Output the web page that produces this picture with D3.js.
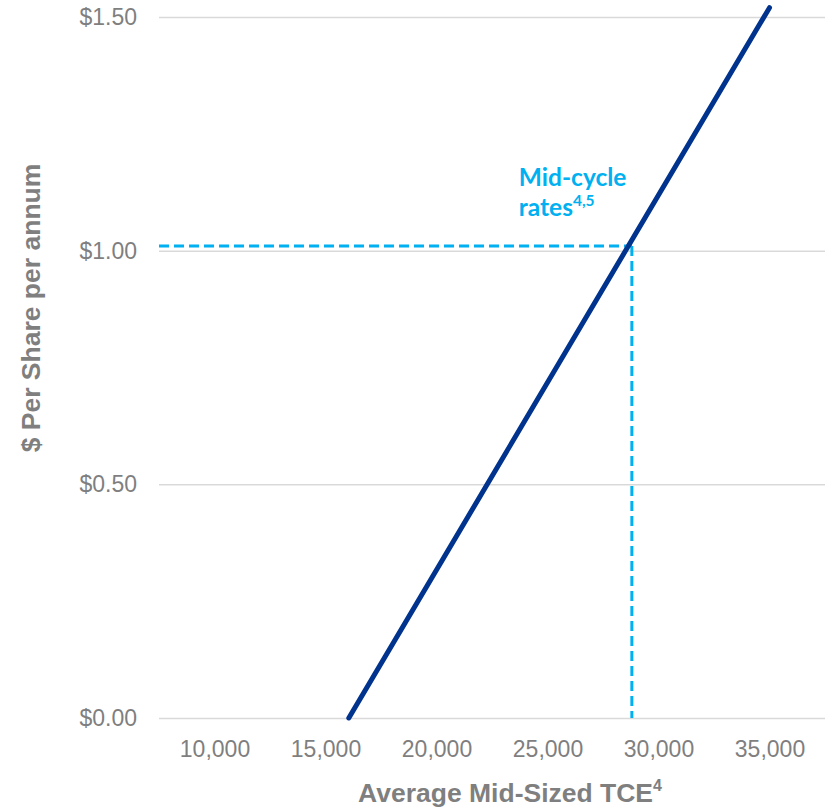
<!DOCTYPE html>
<html>
<head>
<meta charset="utf-8">
<script src="https://cdn.jsdelivr.net/npm/d3@7"></script>
<style>
  html, body { margin: 0; padding: 0; background: #fff; }
  svg { display: block; }
  text { font-family: "Liberation Sans", Arial, sans-serif; }
</style>
</head>
<body>
<svg id="chart" width="833" height="808"></svg>
<script>
// Tick values
const xTicks = [10000, 15000, 20000, 25000, 30000, 35000];
const yTicks = [0, 0.5, 1.0, 1.5];

// Earnings sensitivity line: average TCE ($/day) vs $ per share per annum
const lineTce = [16050, 35000];
const lineEps = [0, 1.52];

// Mid-cycle reference point
const midCycleTce = 28800;
const midCycleEps = 1.01;

const grey = "#7f7f7f";
const navy = "#00338d";
const cyan = "#00b0f0";

const svg = d3.select("#chart");
const plotLeft = 159, plotRight = 825, plotTop = 17, plotBottom = 718;

const x = d3.scaleLinear().domain([7500, 37500]).range([plotLeft, plotRight]);
const y = d3.scaleLinear().domain([0, 1.5]).range([plotBottom, plotTop]);

// Y axis with gridlines
const yAxis = svg.append("g")
  .attr("transform", `translate(${plotLeft},0)`)
  .call(d3.axisLeft(y)
    .tickValues(yTicks)
    .tickSize(-(plotRight - plotLeft))
    .tickPadding(22)
    .tickFormat(d => "$" + d.toFixed(2)));
yAxis.select(".domain").remove();
yAxis.selectAll(".tick line").attr("stroke", "#d9d9d9").attr("stroke-width", 1.5);
yAxis.selectAll(".tick text")
  .attr("fill", grey)
  .style("font-size", "23px");

// X axis labels
const xAxis = svg.append("g")
  .attr("transform", `translate(0,${plotBottom})`)
  .call(d3.axisBottom(x)
    .tickValues(xTicks)
    .tickSize(0)
    .tickFormat(d3.format(",")));
xAxis.select(".domain").remove();
xAxis.selectAll(".tick text")
  .attr("y", 39)
  .attr("dy", 0)
  .attr("fill", grey)
  .style("font-size", "23px");

// Axis titles
svg.append("text")
  .attr("x", 510)
  .attr("y", 802)
  .attr("text-anchor", "middle")
  .attr("fill", grey)
  .style("font-size", "26.5px")
  .style("font-weight", "bold")
  .text("Average Mid-Sized TCE")
  .append("tspan")
  .attr("dy", -11)
  .style("font-size", "16px")
  .text("4");

svg.append("text")
  .attr("transform", "translate(40,308) rotate(-90)")
  .attr("text-anchor", "middle")
  .attr("fill", grey)
  .style("font-size", "26.5px")
  .style("font-weight", "bold")
  .text("$ Per Share per annum");

// Mid-cycle dashed guides
const mx = x(midCycleTce), my = y(midCycleEps);
svg.append("line")
  .attr("x1", plotLeft).attr("x2", mx)
  .attr("y1", my).attr("y2", my)
  .attr("stroke", cyan).attr("stroke-width", 3)
  .attr("stroke-dasharray", "10,5");
svg.append("line")
  .attr("x1", mx).attr("x2", mx)
  .attr("y1", my).attr("y2", y(0))
  .attr("stroke", cyan).attr("stroke-width", 3)
  .attr("stroke-dasharray", "10,5");

// Sensitivity line
const pts = lineTce.map((t, i) => [t, lineEps[i]]);
svg.append("path")
  .datum(pts)
  .attr("fill", "none")
  .attr("stroke", navy)
  .attr("stroke-width", 5)
  .attr("stroke-linecap", "round")
  .attr("d", d3.line().x(d => x(d[0])).y(d => y(d[1])));

// Mid-cycle annotation
const ann = svg.append("text")
  .attr("fill", cyan)
  .style("font-family", "Lato, 'Open Sans', sans-serif")
  .style("font-weight", "bold")
  .style("font-size", "24.5px");
ann.append("tspan").attr("x", mx - 113).attr("y", my - 60).text("Mid-cycle");
ann.append("tspan").attr("x", mx - 113).attr("y", my - 30).text("rates");
ann.append("tspan").attr("dy", -10).style("font-size", "15.5px").text("4,5");
</script>
</body>
</html>
